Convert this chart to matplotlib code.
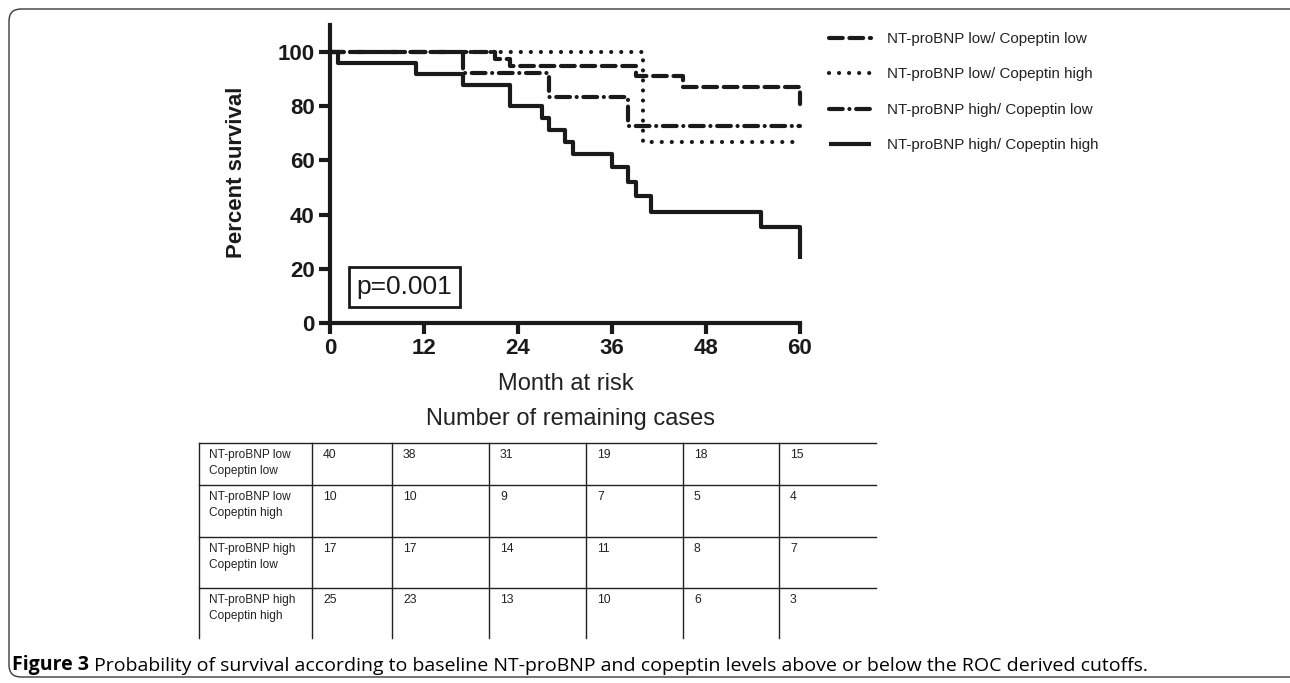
import matplotlib
matplotlib.use("Agg")
import matplotlib.pyplot as plt
from matplotlib.patches import FancyBboxPatch
from matplotlib.transforms import IdentityTransform

plt.rcParams['font.family'] = ['Liberation Sans', 'DejaVu Sans']

# Kaplan-Meier curves (months, percent survival)
months_ll = [0, 21, 23, 39, 45, 60]
surv_ll = [100, 97.5, 95, 91, 87, 81]

months_lh = [0, 40, 60]
surv_lh = [100, 66.7, 66.7]

months_hl = [0, 17, 28, 38, 60]
surv_hl = [100, 92.3, 83.4, 72.7, 72.7]

months_hh = [0, 1, 11, 17, 23, 27, 28, 30, 31, 36, 38, 39, 41, 55, 60]
surv_hh = [100, 96, 92, 88, 80, 75.6, 71.2, 66.8, 62.4, 57.6, 52, 47, 41, 35.4, 23.5]

legend_labels = ['NT-proBNP low/ Copeptin low',
                 'NT-proBNP low/ Copeptin high',
                 'NT-proBNP high/ Copeptin low',
                 'NT-proBNP high/ Copeptin high']

x_ticks = [0, 12, 24, 36, 48, 60]
y_ticks = [0, 20, 40, 60, 80, 100]

# numbers at risk table
row_labels = ['NT-proBNP low\nCopeptin low',
              'NT-proBNP low\nCopeptin high',
              'NT-proBNP high\nCopeptin low',
              'NT-proBNP high\nCopeptin high']
risk_ll = [40, 38, 31, 19, 18, 15]
risk_lh = [10, 10, 9, 7, 5, 4]
risk_hl = [17, 17, 14, 11, 8, 7]
risk_hh = [25, 23, 13, 10, 6, 3]

W, H = 1290, 683
fig = plt.figure(figsize=(W / 100, H / 100), dpi=100)

# rounded frame around the figure
frame = FancyBboxPatch((9, 6), 1300, 668, boxstyle='round,pad=0,rounding_size=12',
                       transform=IdentityTransform(), fill=False, ec='#3a3a3a', lw=1.0)
fig.patches.append(frame)

ax = fig.add_axes([330 / W, 1 - 323 / H, 470 / W, 298 / H])

lw = 3.0
styles = [
    dict(dashes=(3.3, 1.6)),
    dict(dashes=(0.01, 2.4)),
    dict(dashes=(3.3, 1.6, 0.01, 1.6)),
    dict(linestyle='-'),
]
series = [(months_ll, surv_ll), (months_lh, surv_lh), (months_hl, surv_hl), (months_hh, surv_hh)]
handles = []
for (t, s), st, lab in zip(series, styles, legend_labels):
    line, = ax.step(t, s, where='post', color='#1a1a1a', lw=lw, clip_on=False,
                    dash_capstyle='round', solid_capstyle='butt', label=lab, **st)
    handles.append(line)

ax.set_xlim(0, 60)
ax.set_ylim(0, 110)
for sp in ['top', 'right']:
    ax.spines[sp].set_visible(False)
for sp in ['left', 'bottom']:
    ax.spines[sp].set_linewidth(3)
    ax.spines[sp].set_color('#1a1a1a')
ax.set_xticks(x_ticks, labels=[str(v) for v in x_ticks], fontweight='bold')
ax.set_yticks(y_ticks, labels=[str(v) for v in y_ticks], fontweight='bold')
ax.tick_params(width=3, length=8, labelsize=16, pad=3, color='#1a1a1a', labelcolor='#1a1a1a')
ax.set_ylabel('Percent survival', fontsize=16, fontweight='bold', va='center', color='#1a1a1a')
ax.yaxis.set_label_coords((237 - 330) / 470, (323 - 172) / 298)

ax.text(3.4, 13.4, 'p=0.001', fontsize=19, va='center', ha='left', color='#1a1a1a',
        bbox=dict(boxstyle='square,pad=0.3', fc='white', ec='#1a1a1a', lw=2))

ax.legend(handles=handles, loc='upper left', bbox_to_anchor=(829 / W, 1 - 32 / H),
          bbox_transform=fig.transFigure, frameon=False, fontsize=10.9,
          handlelength=2.8, handletextpad=1.05, labelspacing=1.42,
          borderpad=0, borderaxespad=0, labelcolor='#222222')

fig.text(566 / W, 1 - 384 / H, 'Month at risk', ha='center', va='center', fontsize=17, color='#222222')
fig.text(570 / W, 1 - 419 / H, 'Number of remaining cases', ha='center', va='center', fontsize=17, color='#222222')

# table of remaining cases
col_widths = [113, 80, 97, 97, 97, 96, 97]
row_heights = [42, 52, 51, 50]
tw, th = sum(col_widths), sum(row_heights)
tax = fig.add_axes([199 / W, 1 - 638 / H, tw / W, th / H])
tax.set_xlim(0, tw)
tax.set_ylim(th, 0)
tax.axis('off')
col_left = [sum(col_widths[:i]) for i in range(len(col_widths))]
row_top = [sum(row_heights[:i]) for i in range(len(row_heights))]
for y in row_top:
    tax.plot([0, tw], [y, y], color='#222222', lw=1.0, clip_on=False)
for x in col_left:
    tax.plot([x, x], [0, th], color='#222222', lw=1.0, clip_on=False)
risk = [risk_ll, risk_lh, risk_hl, risk_hh]
for r, (lab, vals) in enumerate(zip(row_labels, risk)):
    tax.text(col_left[0] + 10, row_top[r] + 6, lab, fontsize=8.6, va='top', ha='left',
             color='#222222', linespacing=1.4)
    for c, v in enumerate(vals):
        tax.text(col_left[c + 1] + 11, row_top[r] + 6, str(v), fontsize=8.8, va='top',
                 ha='left', color='#222222')

cap = fig.text(12 / W, 1 - 665 / H, 'Figure 3', fontsize=14, fontweight='bold',
               family=['Open Sans', 'DejaVu Sans'], va='center', ha='left')
ax.annotate(' Probability of survival according to baseline NT-proBNP and copeptin levels above or below the ROC derived cutoffs.',
            xy=(1, 0), xycoords=cap, va='bottom', ha='left', fontsize=14,
            family=['Open Sans', 'DejaVu Sans'], annotation_clip=False)

fig.savefig('out.png', dpi=100)
